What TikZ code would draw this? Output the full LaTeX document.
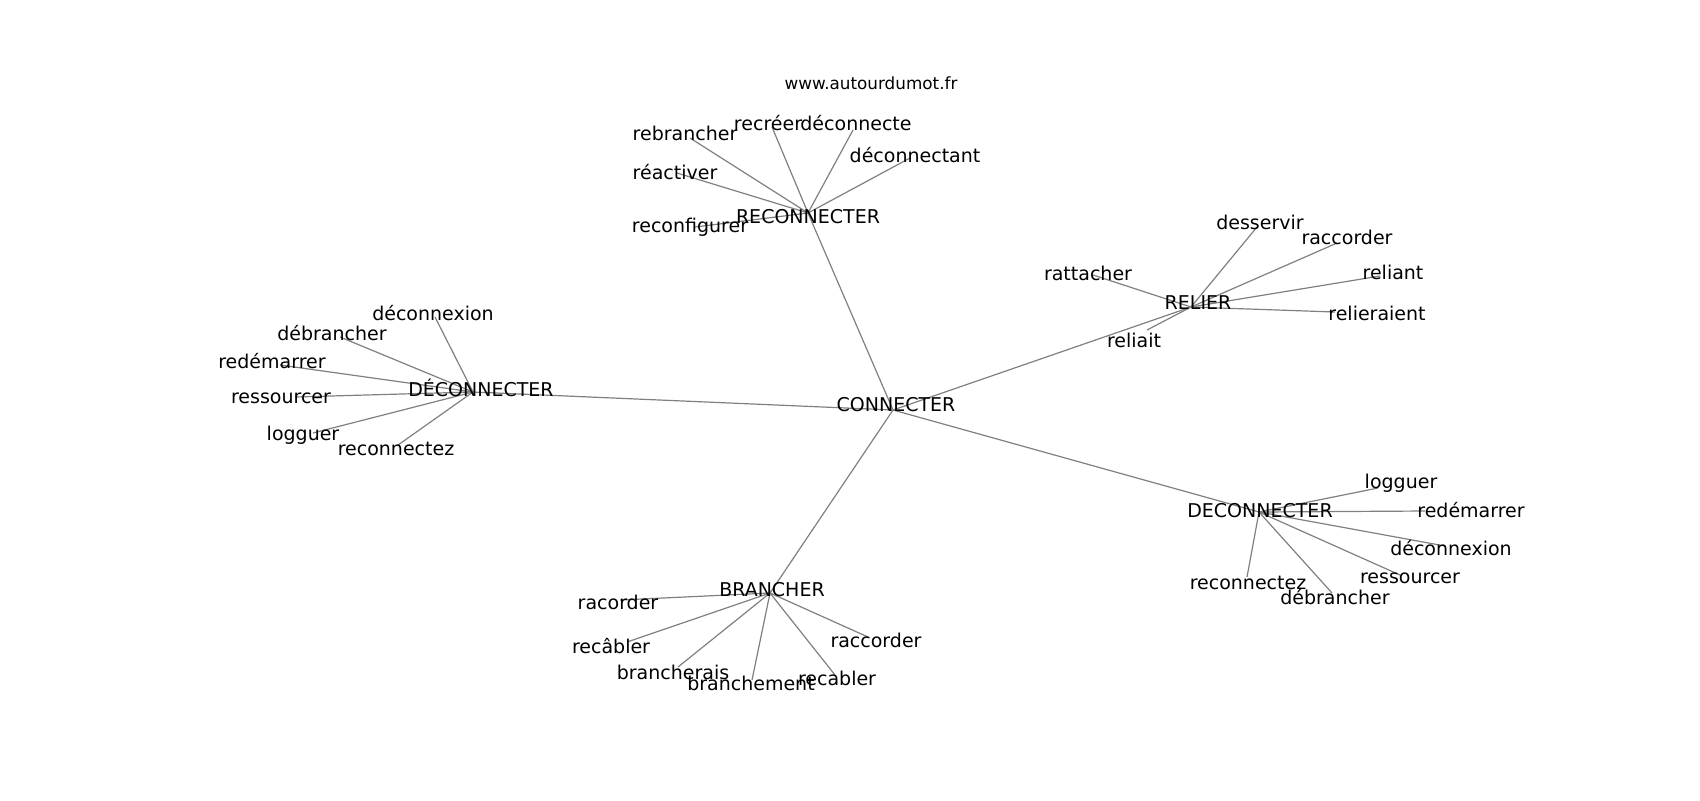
\documentclass[tikz,border=0pt]{standalone}
\usepackage{fontspec}
\setmainfont{DejaVu Sans}
\begin{document}
\begin{tikzpicture}[x=0.5pt,y=-0.5pt,
  lab/.style={inner sep=0pt,anchor=center,font=\fontsize{9.5pt}{11pt}\selectfont,text=black},
  ttl/.style={inner sep=0pt,anchor=center,font=\fontsize{8.4pt}{10pt}\selectfont,text=black},
  edge/.style={draw=black!50,line width=0.6pt}]
\useasboundingbox[fill=white] (0,0) rectangle (1700,800);

% ---- endpoints (graph positions)
\coordinate (C) at (893,410);
\coordinate (RC) at (808,213);
\coordinate (DL) at (473,392);
\coordinate (RL) at (1191,307);
\coordinate (DR) at (1259,512);
\coordinate (BR) at (770,593);

\coordinate (rc1) at (690,138);
\coordinate (rc2) at (677,173);
\coordinate (rc3) at (772,127);
\coordinate (rc4) at (853,130);
\coordinate (rc5) at (910,158);
\coordinate (rc6) at (695,227);

\coordinate (dl1) at (435,317);
\coordinate (dl2) at (340,337);
\coordinate (dl3) at (280,365);
\coordinate (dl4) at (295,397);
\coordinate (dl5) at (313,433);
\coordinate (dl6) at (398,445);

\coordinate (rl1) at (1257,227);
\coordinate (rl2) at (1337,243);
\coordinate (rl3) at (1380,276);
\coordinate (rl4) at (1335,312);
\coordinate (rl5) at (1093,275);
\coordinate (rl6) at (1147,330);

\coordinate (dr1) at (1378,488);
\coordinate (dr2) at (1425,511);
\coordinate (dr3) at (1445,546);
\coordinate (dr4) at (1400,575);
\coordinate (dr5) at (1247,577);
\coordinate (dr6) at (1332,593);

\coordinate (br1) at (620,600);
\coordinate (br2) at (627,642);
\coordinate (br3) at (678,667);
\coordinate (br4) at (752,680);
\coordinate (br5) at (835,675);
\coordinate (br6) at (868,637);

% ---- edges
\foreach \a/\b in {C/RC,C/DL,C/RL,C/DR,C/BR,
  RC/rc1,RC/rc2,RC/rc3,RC/rc4,RC/rc5,RC/rc6,
  DL/dl1,DL/dl2,DL/dl3,DL/dl4,DL/dl5,DL/dl6,
  RL/rl1,RL/rl2,RL/rl3,RL/rl4,RL/rl5,RL/rl6,
  DR/dr1,DR/dr2,DR/dr3,DR/dr4,DR/dr5,DR/dr6,
  BR/br1,BR/br2,BR/br3,BR/br4,BR/br5,BR/br6}
  \draw[edge] (\a) -- (\b);

% ---- labels
\node[ttl] (title) at (871,83) {www.autourdumot.fr};

\node[lab] (tC) at (896,405) {CONNECTER};
\node[lab] (tRC) at (808,217) {RECONNECTER};
\node[lab] (tDL) at (481,388) {DÉCONNECTER};
\node[lab] (tRL) at (1198,303) {RELIER};
\node[lab] (tDR) at (1260,511) {DECONNECTER};
\node[lab] (tBR) at (772,590) {BRANCHER};

\node[lab] (trc1) at (685,133) {rebrancher};
\node[lab] (trc2) at (675,172) {réactiver};
\node[lab] (trc3) at (768,123) {recréer};
\node[lab] (trc4) at (856,123) {déconnecte};
\node[lab] (trc5) at (915,155) {déconnectant};
\node[lab] (trc6) at (690,227) {reconfigurer};

\node[lab] (tdl1) at (433,313) {déconnexion};
\node[lab] (tdl2) at (332,333) {débrancher};
\node[lab] (tdl3) at (272,361) {redémarrer};
\node[lab] (tdl4) at (281,398) {ressourcer};
\node[lab] (tdl5) at (303,435) {logguer};
\node[lab] (tdl6) at (396,449) {reconnectez};

\node[lab] (trl1) at (1260,222) {desservir};
\node[lab] (trl2) at (1347,237) {raccorder};
\node[lab] (trl3) at (1393,272) {reliant};
\node[lab] (trl4) at (1377,313) {relieraient};
\node[lab] (trl5) at (1088,273) {rattacher};
\node[lab] (trl6) at (1134,340) {reliait};

\node[lab] (tdr1) at (1401,483) {logguer};
\node[lab] (tdr2) at (1471,510) {redémarrer};
\node[lab] (tdr3) at (1451,548) {déconnexion};
\node[lab] (tdr4) at (1410,578) {ressourcer};
\node[lab] (tdr5) at (1248,583) {reconnectez};
\node[lab] (tdr6) at (1335,597) {débrancher};

\node[lab] (tbr1) at (618,602) {racorder};
\node[lab] (tbr2) at (611,646) {recâbler};
\node[lab] (tbr3) at (673,672) {brancherais};
\node[lab] (tbr4) at (751,683) {branchement};
\node[lab] (tbr5) at (837,678) {recabler};
\node[lab] (tbr6) at (876,640) {raccorder};
\end{tikzpicture}
\end{document}
